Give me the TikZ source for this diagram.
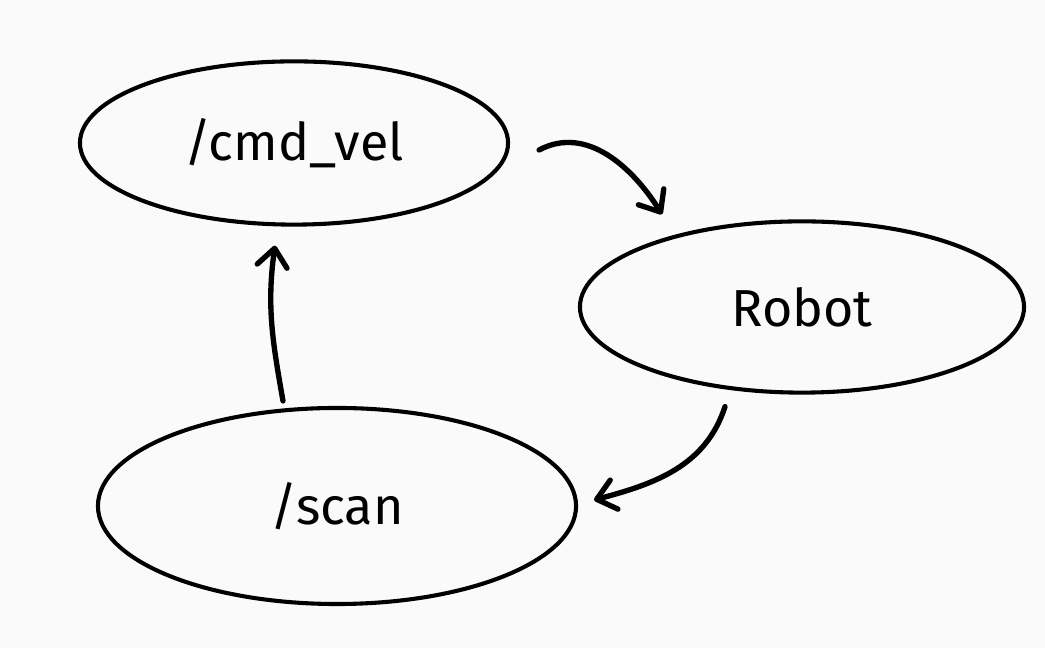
\documentclass[tikz,border=0pt]{standalone}
\usepackage{fontspec}
\setsansfont{Fira Sans}
\usetikzlibrary{arrows.meta,shapes.geometric}
\definecolor{paper}{HTML}{FAFAFA}

\begin{document}
\begin{tikzpicture}[x=0.025cm, y=0.025cm,
  font=\sffamily\fontsize{37}{42}\selectfont,
  topic/.style={draw=black, ellipse, line width=2.9pt, inner sep=0pt},
  flow/.style={-{Straight Barb[length=4.5mm, width=7.5mm, line cap=round, line join=round]},
    line width=3.8pt, line cap=round, black},
]
\useasboundingbox[fill=paper] (0,0) rectangle (1045,648);

% ======================= Topics and robot =======================
\node[topic, minimum width=10.7cm, minimum height=4.08cm] (cmdvel) at (294,505) {/cmd\_vel};
\node[topic, minimum width=11.1cm, minimum height=4.28cm] (robot) at (802,341) {Robot};
\node[topic, minimum width=11.95cm, minimum height=4.9cm] (scan) at (337,142) {/scan};

% ======================= Loop arrows ============================
\draw[flow] ([shift={(29,-7)}]cmdvel.east) to[out=28, in=122] ([shift={(-140,5)}]robot.north);
\draw[flow] ([shift={(-77,-12)}]robot.south) to[out=-108, in=15] ([shift={(16,6)}]scan.east);
\draw[flow] ([shift={(-54,5)}]scan.north) to[out=100, in=-98] ([shift={(-19,-19)}]cmdvel.south);

\end{tikzpicture}
\end{document}
